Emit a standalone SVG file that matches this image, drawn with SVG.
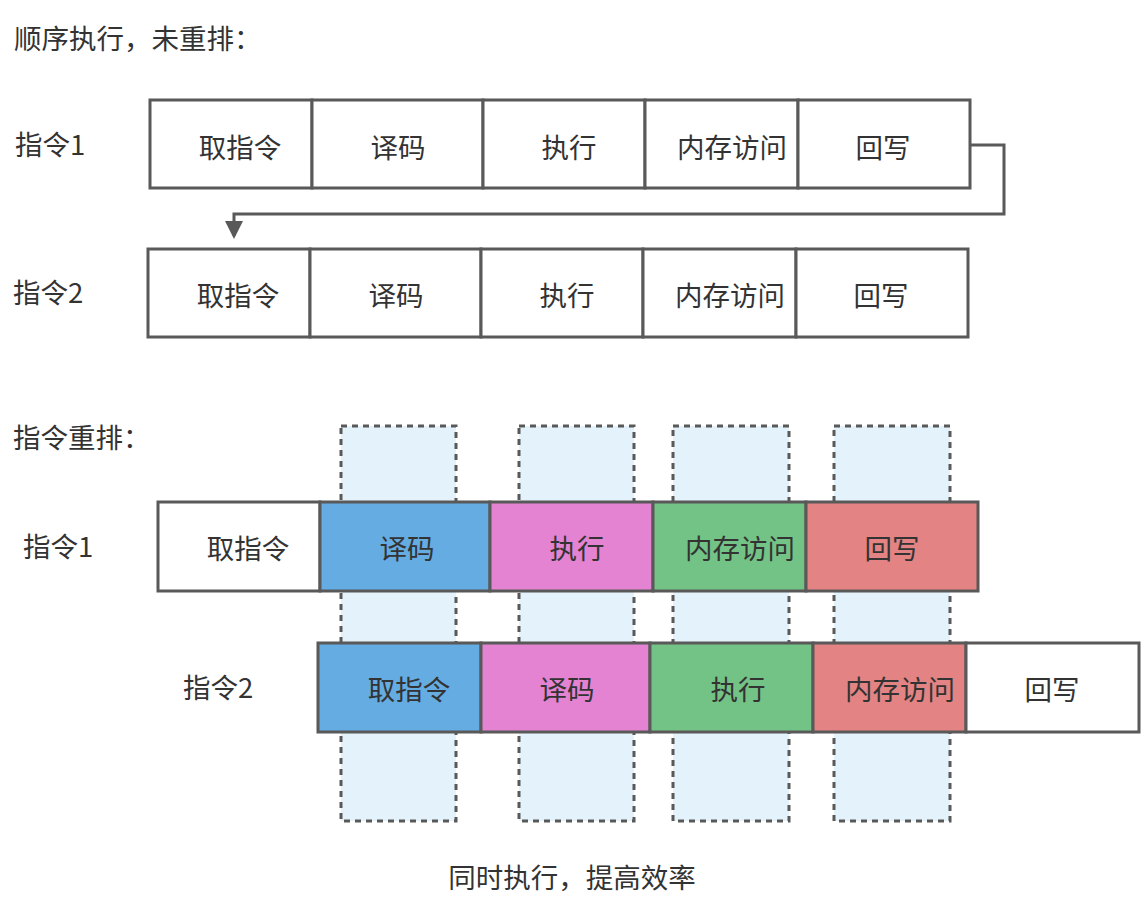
<svg xmlns="http://www.w3.org/2000/svg" width="1144" height="912" viewBox="0 0 1144 912">
<style>
text{font-family:"Noto Sans CJK SC","Liberation Sans",sans-serif;font-size:27.5px;fill:#333;dominant-baseline:central}
.c{text-anchor:middle}
.box{stroke:#595959;stroke-width:3;fill:#fff}
.dash{fill:#e4f2fb;stroke:#595959;stroke-width:3;stroke-dasharray:6 5}
.b{fill:#64ace2}.p{fill:#e483d2}.g{fill:#74c386}.r{fill:#e38383}
.conn{fill:none;stroke:#595959;stroke-width:3}
</style>
<defs>
<marker id="ah" markerWidth="6" markerHeight="6" refX="5" refY="3" orient="auto" markerUnits="strokeWidth">
<path d="M0,0 L6,3 L0,6 Z" fill="#595959"/>
</marker>
</defs>
<rect width="1144" height="912" fill="#fff"/>
<g id="labels">
<text x="14" y="37">顺序执行，未重排：</text>
<text x="15" y="143">指令1</text>
<text x="13" y="291">指令2</text>
<text x="13" y="436">指令重排：</text>
<text x="23" y="545">指令1</text>
<text x="183" y="686">指令2</text>
<text x="572" y="876" class="c">同时执行，提高效率</text>
</g>
<g id="top-instr1">
<rect class="box" x="150" y="100" width="162" height="88"/>
<rect class="box" x="312" y="100" width="171" height="88"/>
<rect class="box" x="483" y="100" width="162" height="88"/>
<rect class="box" x="645" y="100" width="153" height="88"/>
<rect class="box" x="798" y="100" width="172" height="88"/>
<text class="c" x="240" y="146">取指令</text>
<text class="c" x="398" y="146">译码</text>
<text class="c" x="569" y="146">执行</text>
<text class="c" x="732" y="146">内存访问</text>
<text class="c" x="883" y="146">回写</text>
</g>
<g id="top-instr2">
<rect class="box" x="148" y="249" width="162" height="88"/>
<rect class="box" x="310" y="249" width="171" height="88"/>
<rect class="box" x="481" y="249" width="162" height="88"/>
<rect class="box" x="643" y="249" width="153" height="88"/>
<rect class="box" x="796" y="249" width="172" height="88"/>
<text class="c" x="238" y="294">取指令</text>
<text class="c" x="396" y="294">译码</text>
<text class="c" x="567" y="294">执行</text>
<text class="c" x="730" y="294">内存访问</text>
<text class="c" x="881" y="294">回写</text>
</g>
<g id="connectors">
<path class="conn" d="M970,145 H1004 V214 H234 V236" marker-end="url(#ah)"/>
</g>
<g id="parallel-columns">
<rect class="dash" x="341" y="426" width="115" height="395"/>
<rect class="dash" x="519" y="426" width="115" height="395"/>
<rect class="dash" x="673" y="426" width="116" height="395"/>
<rect class="dash" x="834" y="426" width="116" height="395"/>
</g>
<g id="reorder-instr1">
<rect class="box" x="158" y="502" width="162" height="89"/>
<rect class="box b" x="320" y="502" width="170" height="89"/>
<rect class="box p" x="490" y="502" width="163" height="89"/>
<rect class="box g" x="653" y="502" width="153" height="89"/>
<rect class="box r" x="806" y="502" width="172" height="89"/>
<text class="c" x="248" y="547">取指令</text>
<text class="c" x="407" y="547">译码</text>
<text class="c" x="577" y="547">执行</text>
<text class="c" x="740" y="547">内存访问</text>
<text class="c" x="892" y="547">回写</text>
</g>
<g id="reorder-instr2">
<rect class="box b" x="318" y="643" width="163" height="89"/>
<rect class="box p" x="481" y="643" width="169" height="89"/>
<rect class="box g" x="650" y="643" width="163" height="89"/>
<rect class="box r" x="813" y="643" width="153" height="89"/>
<rect class="box" x="966" y="643" width="173" height="89"/>
<text class="c" x="409" y="688">取指令</text>
<text class="c" x="567" y="688">译码</text>
<text class="c" x="738" y="688">执行</text>
<text class="c" x="900" y="688">内存访问</text>
<text class="c" x="1052" y="688">回写</text>
</g>
</svg>
